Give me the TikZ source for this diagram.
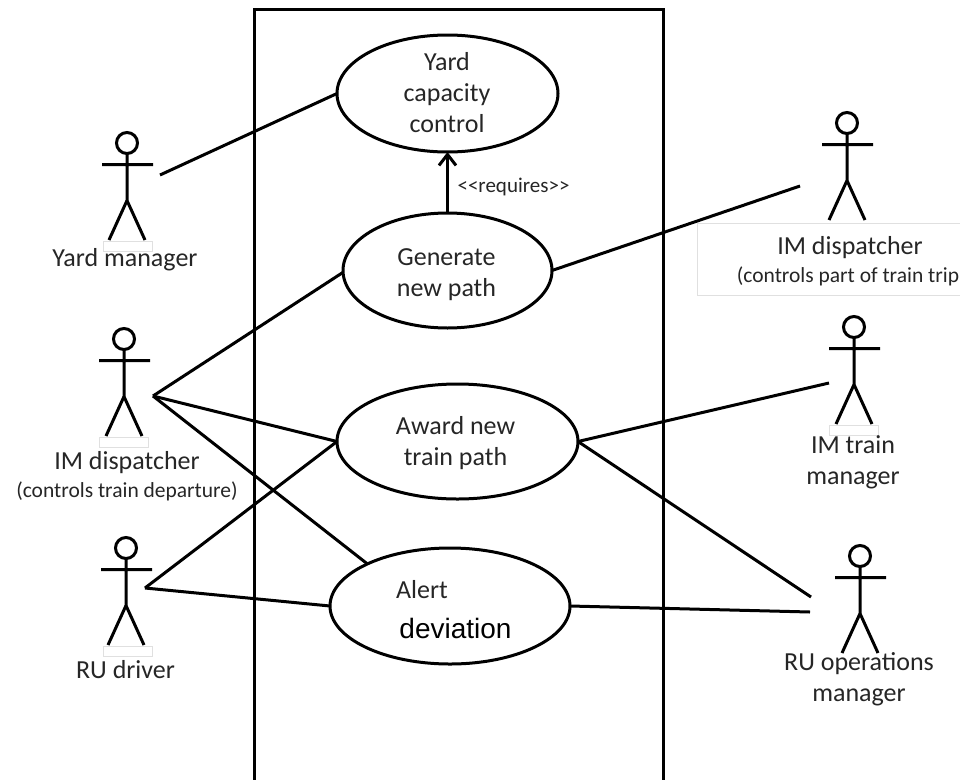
\documentclass[tikz,border=0pt]{standalone}
\usepackage{fontspec}
\setmainfont{Carlito}
\newfontfamily\arialfont{Liberation Sans}
\usetikzlibrary{shapes.geometric,arrows.meta}
\tikzset{
  x=1pt,y=-1pt,
  line/.style={line width=3pt,black},
  usecase/.style={ellipse,draw,line width=3pt,fill=white,inner sep=0pt,outer sep=0pt},
  lbl/.style={font=\fontsize{26}{31}\selectfont,text=black!85,inner sep=0pt,align=center},
  small/.style={font=\fontsize{21.5}{24}\selectfont,text=black!85,inner sep=0pt},
  tiny/.style={font=\fontsize{21}{22}\selectfont,text=black!85,inner sep=0pt},
  patchbox/.style={draw=black!12,fill=white,line width=0.7pt,minimum width=49pt,minimum height=10pt,anchor=north west,inner sep=0pt},
  actor/.pic={
    \draw[line] (0,0) circle (10.5);
    \draw[line] (0,10.5) -- (0,57.5) (-25,21.5) -- (26,21.5) (-18,97) -- (0,57.5) -- (18,97);
  }
}
\begin{document}
\begin{tikzpicture}
\useasboundingbox (0,0) rectangle (960,779);
\fill[white] (0,0) rectangle (960,779);
% system frame
\draw[line] (254,785) -- (254,9) -- (663,9) -- (663,785);
% use cases
\node[usecase,minimum width=221pt,minimum height=117pt] (yard) at (447.5,93.5) {};
\node[usecase,minimum width=209pt,minimum height=115pt] (gen) at (447.5,270.5) {};
\node[usecase,minimum width=241pt,minimum height=115pt] (award) at (457.5,441.5) {};
\node[usecase,minimum width=240pt,minimum height=116pt] (alert) at (450,606) {};
\node[lbl] (yardt) at (447,93) {Yard\\capacity\\control};
\node[lbl] (gent) at (446.5,275) {Generate\\new path};
\node[lbl] (awardt) at (455.5,443) {Award new\\train path};
\node[lbl] (alertt) at (422,590) {Alert};
\node[font=\arialfont\fontsize{28}{28}\selectfont,inner sep=0pt] (alertu) at (455.5,628) {deviation};
% actors
\pic at (127,143) {actor};
\pic at (847,123) {actor};
\pic at (124,339) {actor};
\pic at (126,548) {actor};
\pic at (854,327) {actor};
\pic at (860,556) {actor};
% white label patches
\node[patchbox,minimum width=265pt,minimum height=72pt] (patch) at (696.5,223) {};
\node[patchbox] (patchA) at (103,241) {};
\node[patchbox] (patchB) at (99,437) {};
\node[patchbox] (patchC) at (103,645.5) {};
\node[patchbox] (patchD) at (829,425) {};
% actor labels
\node[lbl] (a1) at (125,260) {Yard manager};
\node[lbl] (a2) at (850,248) {IM dispatcher};
\node[small] (a2b) at (848,276) {(controls part of train trip};
\node[lbl] (a3) at (127,463) {IM dispatcher};
\node[small] (a3b) at (127,491.5) {(controls train departure)};
\node[lbl] (a4) at (125.5,669.5) {RU driver};
\node[lbl] (a5) at (853,462) {IM train\\manager};
\node[lbl] (a6) at (859,679.5) {RU operations\\manager};
\node[tiny] (req) at (513.5,187) {<{}<requires>{}>};
% attachment points beside the actors
\coordinate (pYard) at (160,175);
\coordinate (pDispR) at (800,186);
\coordinate (pDispL) at (153,396);
\coordinate (pDriver) at (145,588);
\coordinate (pTrain) at (829,383);
\coordinate (pOps) at (811,597);
\coordinate (pOps2) at (810,612);
% connectors
\draw[line] (pYard) -- (yard.180);
\draw[line] (pDispR) -- (gen.0);
\draw[line] (pDispL) -- (gen.181);
\draw[line] (pDispL) -- (award.180);
\draw[line] (pDispL) -- (alert.153.7);
\draw[line] (pDriver) -- (award.180);
\draw[line] (pDriver) -- (alert.180);
\draw[line] (pTrain) -- (award.0);
\draw[line] (award.0) -- (pOps);
\draw[line] (alert.0) -- (pOps2);
\draw[line,-{Straight Barb[length=11pt,width=17pt,line width=3pt]}] (gen.north) -- (yard.south);
\end{tikzpicture}
\end{document}
